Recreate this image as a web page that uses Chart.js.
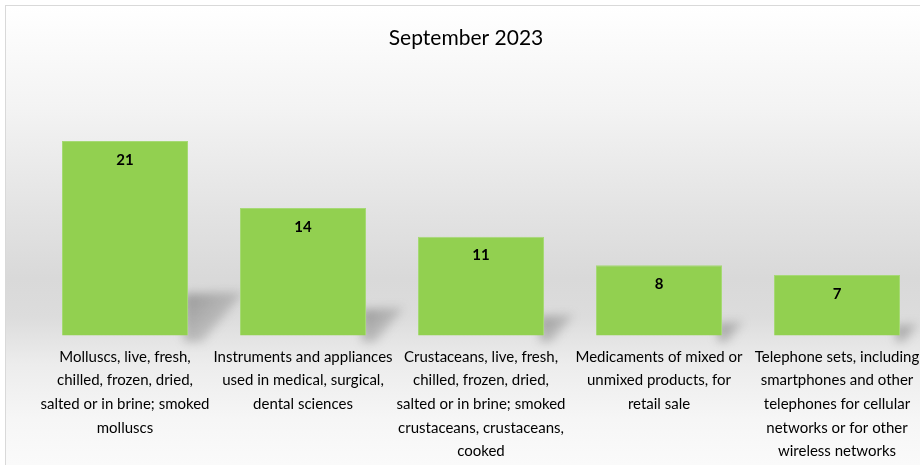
<!DOCTYPE html>
<html>
<head>
<meta charset="utf-8">
<script src="https://cdn.jsdelivr.net/npm/chart.js@4.4.0/dist/chart.umd.min.js"></script>
<style>
  html, body { margin: 0; padding: 0; overflow: hidden; width: 920px; height: 465px; background: #fff; }
  #frame {
    position: absolute; left: 5px; top: 5px; width: 935px; height: 470px;
    border-left: 1px solid #d9d9d9; border-top: 1px solid #d9d9d9;
    background: linear-gradient(to bottom, #ffffff 0%, #f3f3f3 22%, #e2e2e2 45%, #d9d9d9 58%, #dcdcdc 66%, #ececec 76%, #f6f6f6 88%, #fbfbfb 100%);
  }
  #chart { position: absolute; left: 0; top: 0; }
</style>
</head>
<body>
<div id="frame"><canvas id="chart" width="935" height="467"></canvas></div>
<script>
// data
const categories = [
  ['Molluscs, live, fresh,', 'chilled, frozen, dried,', 'salted or in brine; smoked', 'molluscs'],
  ['Instruments and appliances', 'used in medical, surgical,', 'dental sciences'],
  ['Crustaceans, live, fresh,', 'chilled, frozen, dried,', 'salted or in brine; smoked', 'crustaceans, crustaceans,', 'cooked'],
  ['Medicaments of mixed or', 'unmixed products, for', 'retail sale'],
  ['Telephone sets, including', 'smartphones and other', 'telephones for cellular', 'networks or for other', 'wireless networks']
];
const counts = [21, 14, 11, 8, 7];
const chartTitle = 'September 2023';

const FONT = 'Lato, "Open Sans", sans-serif';

// soft slanted shadow behind each bar's bottom right corner
const shadowPlugin = {
  id: 'barShadow',
  beforeDatasetsDraw(chart) {
    const ctx = chart.ctx;
    const meta = chart.getDatasetMeta(0);
    meta.data.forEach(bar => {
      const right = bar.x + bar.width / 2;
      const bottom = bar.base;
      const h = bottom - bar.y;
      const sh = h * 0.24, sw = h * 0.28;
      ctx.save();
      ctx.filter = 'blur(5px)';
      const g = ctx.createLinearGradient(right, bottom - sh, right + sw, bottom);
      g.addColorStop(0, 'rgba(90,90,90,0.5)');
      g.addColorStop(1, 'rgba(120,120,120,0.12)');
      ctx.fillStyle = g;
      ctx.beginPath();
      ctx.moveTo(right - 4, bottom);
      ctx.lineTo(right - 4, bottom - sh);
      ctx.lineTo(right + sw, bottom - sh - 2);
      ctx.lineTo(right + sw * 0.25, bottom);
      ctx.closePath();
      ctx.fill();
      ctx.restore();
    });
  }
};

// value labels inside the top of each bar
const valuePlugin = {
  id: 'valueLabels',
  afterDatasetsDraw(chart) {
    const ctx = chart.ctx;
    const meta = chart.getDatasetMeta(0);
    ctx.save();
    ctx.font = 'bold 15px ' + FONT;
    ctx.fillStyle = '#000';
    ctx.textAlign = 'center';
    ctx.textBaseline = 'middle';
    meta.data.forEach((bar, i) => {
      ctx.fillText(String(counts[i]), bar.x, bar.y + 19);
    });
    ctx.restore();
  }
};

new Chart(document.getElementById('chart'), {
  type: 'bar',
  data: {
    labels: categories,
    datasets: [{
      data: counts,
      backgroundColor: '#92d050',
      borderColor: '#a6d975',
      borderWidth: 1,
      categoryPercentage: 1,
      barPercentage: 0.708
    }]
  },
  options: {
    responsive: false,
    animation: false,
    layout: { padding: { left: 0, right: 15, top: 0, bottom: 0 } },
    plugins: {
      legend: { display: false },
      tooltip: { enabled: false },
      title: {
        display: true,
        text: chartTitle,
        color: '#000',
        font: { family: FONT, size: 21, weight: 'normal' },
        padding: { top: 20, bottom: 61 }
      }
    },
    scales: {
      x: {
        grid: { display: false, drawTicks: false },
        border: { display: false },
        ticks: {
          color: '#000',
          font: { family: FONT, size: 15, lineHeight: 1.57 },
          padding: 10,
          maxRotation: 0,
          autoSkip: false
        }
      },
      y: {
        display: true,
        min: 0.7,
        max: 24,
        grid: { display: false },
        border: { display: false },
        ticks: { display: false },
        afterFit(scale) { scale.width = 30; }
      }
    }
  },
  plugins: [shadowPlugin, valuePlugin]
});
</script>
</body>
</html>
